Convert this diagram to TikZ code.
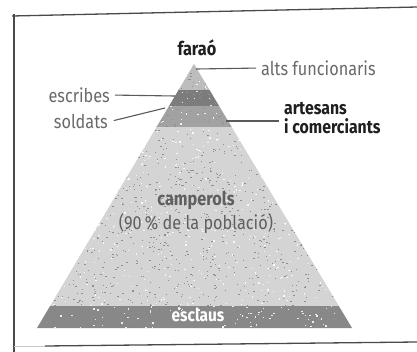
\documentclass[tikz,border=0pt]{standalone}
\usepackage{fontspec}
\setmainfont{Fira Sans}[FakeStretch=0.86]
\definecolor{framegray}{HTML}{4A4A4A}
\definecolor{leadgray}{HTML}{5A5A5A}
\definecolor{labgray}{HTML}{6A6A6A}
\definecolor{capgray}{HTML}{BDBDBD}
\definecolor{scribegray}{HTML}{7C7C7C}
\definecolor{soldgray}{HTML}{A2A2A2}
\definecolor{peasgray}{HTML}{D4D4D4}
\definecolor{slavegray}{HTML}{888888}
\definecolor{specklegray}{HTML}{8E8E8E}
\begin{document}
\begin{tikzpicture}[x=1bp,y=-1bp,
  lab/.style={font=\fontsize{19}{19}\selectfont, text=labgray, inner sep=0pt},
  blab/.style={font=\fontsize{19}{19}\selectfont\bfseries, text=black!88, inner sep=0pt, align=left},
  inlab/.style={font=\fontsize{19}{19}\selectfont, text=labgray!90!black, inner sep=0pt},
  leader/.style={draw=leadgray, line width=1.1bp},
  frameline/.style={draw=framegray, line width=1.3bp}]
\useasboundingbox (0,0) rectangle (417,352);
\fill[white] (0,0) rectangle (417,352);
% frame
\coordinate (f1) at (12,16);
\coordinate (f2) at (417,7);
\coordinate (f3) at (14,14);
\coordinate (f4) at (14,352);
\coordinate (f5) at (45,346);
\coordinate (f6) at (417,342);
\coordinate (f7) at (14,346);
\draw[frameline] (f1) -- (f2);
\draw[frameline] (f3) -- (f4);
\draw[frameline] (f5) -- (f6);
\draw[draw=framegray!30, line width=1bp] (f7) -- (f5);
% pyramid
\coordinate (apex) at (194,64);
\coordinate (bl) at (37,328);
\coordinate (br) at (352,328);
\begin{scope}
  \clip (apex) -- (br) -- (bl) -- cycle;
  \fill[capgray] (0,60) rectangle (417,90);
  \fill[scribegray] (0,90) rectangle (417,106);
  \fill[soldgray] (0,106) rectangle (417,127);
  \fill[peasgray] (0,127) rectangle (417,306);
  \fill[slavegray] (0,306) rectangle (417,330);
  \pgfmathsetseed{7}
  \foreach \i in {1,...,1400}{
    \pgfmathsetmacro{\px}{30+330*rnd}
    \pgfmathsetmacro{\py}{60+270*rnd}
    \fill[specklegray] (\px,\py) rectangle ++(1.4,1);
  }
  \foreach \i in {1,...,900}{
    \pgfmathsetmacro{\px}{30+330*rnd}
    \pgfmathsetmacro{\py}{60+270*rnd}
    \fill[white, opacity=0.85] (\px,\py) rectangle ++(1.4,1.2);
  }
\end{scope}
% labels
\node[blab, anchor=base] (farao) at (197,55) {faraó};
\node[lab, anchor=west] (alts) at (261,68) {alts funcionaris};
\node[lab, anchor=east] (escr) at (110,95) {escribes};
\node[lab, anchor=east] (sold) at (108,122) {soldats};
\node[blab, anchor=west, font=\fontsize{18.5}{18.5}\selectfont\bfseries] (art) at (284,118) {artesans\\i comerciants};
\node[inlab, font=\fontsize{19}{19}\selectfont\bfseries] (camp) at (196,200) {camperols};
\node[inlab] (pobl) at (196,224) {(90\,\% de la població)};
\node[inlab, text=white, font=\fontsize{18}{18}\selectfont\bfseries] (escl) at (198,315) {esclaus};
% leaders
\coordinate (altsP) at (196,69);
\coordinate (escrP) at (175,96);
\coordinate (soldP) at (165,108);
\coordinate (artP) at (226,121);
\draw[leader, shorten >=5bp] (altsP) -- (alts.west);
\draw[leader, shorten <=5bp] (escr.east) -- (escrP);
\draw[leader, shorten <=6bp] (sold.east) -- (soldP);
\draw[leader, shorten >=5bp] (artP) -- (artP -| art.west);
\end{tikzpicture}
\end{document}
